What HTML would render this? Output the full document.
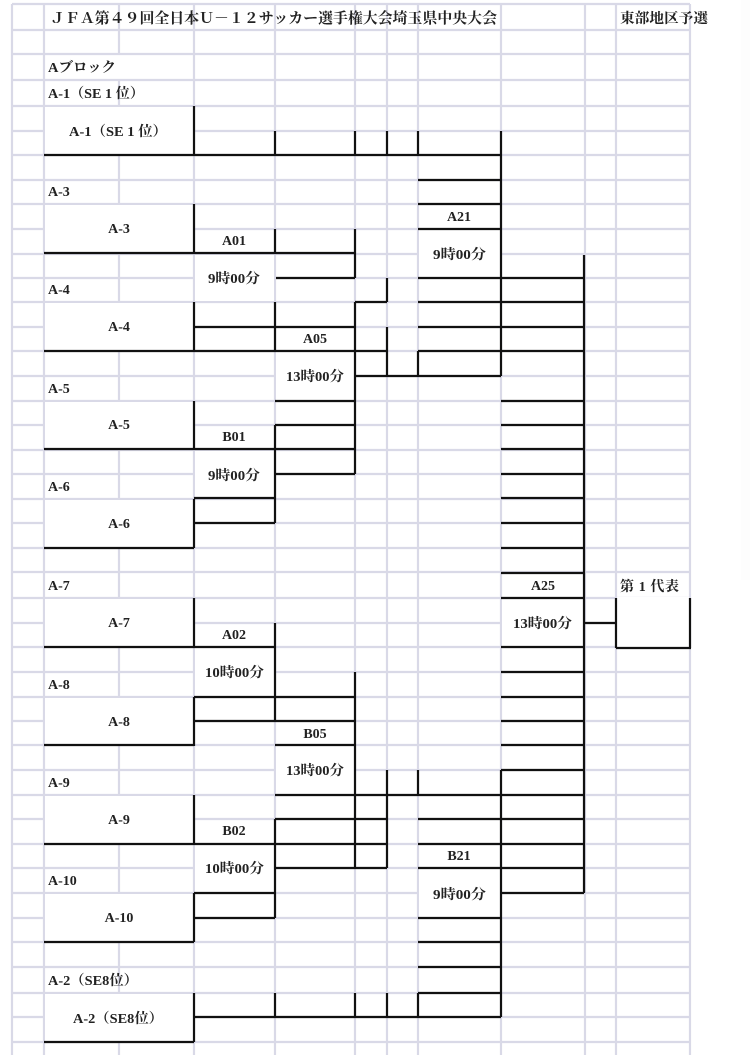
<!DOCTYPE html>
<html lang="ja"><head><meta charset="utf-8"><title>JFA U-12 Bracket</title>
<style>
html,body{margin:0;padding:0;background:#fff;width:750px;height:1055px;overflow:hidden}
svg{display:block;filter:blur(.35px)}
text{font-family:"Liberation Serif","Noto Serif CJK SC","Noto Serif CJK JP",serif;font-weight:700;font-size:14px;fill:#222}
.m{text-anchor:middle}
</style></head><body>
<svg width="750" height="1055" viewBox="0 0 750 1055" xmlns="http://www.w3.org/2000/svg">
<rect x="741" y="0" width="9" height="580" fill="#fdfdfd"/>
<!-- grey grid -->
<path fill="none" stroke="#d9d9e7" stroke-width="2.2" d="
M12 4H690M12 30H690M12 54H690M12 80H690M12 106H690M12 131H690M12 155H690M12 180H690M12 204H690M12 229H690M12 254H690M12 278H690M12 302H690M12 327H690M12 351H690M12 376H690M12 401H690M12 425H690M12 450H690M12 474H690M12 499H690M12 523H690M12 548H690M12 572H690M12 598H690M12 623H690M12 647H690M12 672H690M12 697H690M12 721H690M12 745H690M12 770H690M12 795H690M12 819H690M12 844H690M12 868H690M12 893H690M12 918H690M12 942H690M12 967H690M12 993H690M12 1017H690M12 1042H690
M12 4V1055M44 4V1055M194 4V1055M275 4V1055M355 4V1055M387 4V1055M418 4V1055M501 4V1055M585 4V1055M616 4V1055M690 4V1055
M119 4V54M119 80V106M119 155V204M119 254V302M119 351V401M119 450V499M119 548V598M119 647V697M119 745V795M119 844V893M119 942V993M119 1042V1055"/>
<!-- merged cells -->
<g fill="#fff">
<rect x="45" y="107" width="148" height="48"/><rect x="45" y="205" width="148" height="48"/><rect x="45" y="303" width="148" height="48"/><rect x="45" y="402" width="148" height="47"/><rect x="45" y="500" width="148" height="48"/><rect x="45" y="599" width="148" height="48"/><rect x="45" y="698" width="148" height="47"/><rect x="45" y="796" width="148" height="48"/><rect x="45" y="894" width="148" height="48"/><rect x="45" y="994" width="148" height="48"/>
<rect x="195" y="255" width="79" height="46"/><rect x="195" y="451" width="79" height="47"/><rect x="195" y="648" width="79" height="48"/><rect x="195" y="845" width="79" height="47"/>
<rect x="276" y="352" width="78" height="48"/><rect x="276" y="746" width="78" height="48"/>
<rect x="419" y="230" width="81" height="47"/><rect x="419" y="869" width="81" height="48"/>
<rect x="502" y="599" width="82" height="48"/>
<rect x="617" y="597" width="72" height="50"/>
</g>
<!-- black bracket lines -->
<path fill="none" stroke="#111" stroke-width="2.2" d="
M44 155H501M44 253H355M276 278H355M355 302H387M194 327H355M44 351H387M418 351H584M355 376H501
M275 401H355M275 425H355M44 449H355M275 474H355M194 498H275M194 523H275M44 548H194
M44 647H275M194 697H355M194 721H355M44 745H194M275 745H355M275 795H584M275 819H387M44 844H387M275 868H387
M194 893H275M194 918H275M44 942H194M194 1017H501M44 1042H194
M418 180H501M418 204H501M418 229H501M418 278H584M418 302H584M418 327H584M418 819H584M418 844H584M418 868H584
M501 401H584M501 425H584M501 449H584M501 474H584M501 498H584M501 523H584M501 548H584M501 573H584M501 598H584M501 647H584M501 672H584M501 697H584M501 721H584M501 745H584M501 770H584M501 893H584
M418 918H501M418 942H501M418 967H501M418 993H501
M584 623H616M616 648H691
M194 106V155M194 204V253M194 302V351M194 401V449M194 499V548M194 598V647M194 697V746M194 795V844M194 893V942M194 993V1042
M275 131V155M275 229V253M275 302V351M275 425V523M275 623V721M275 819V918M275 993V1017
M355 131V155M355 229V278M355 302V474M355 672V868M355 993V1017
M387 131V155M387 278V302M387 327V376M387 770V868M387 993V1017
M418 131V155M418 351V376M418 770V795M418 993V1017
M501 131V376M501 770V1017M584 255V893M616 598V648M690 598V648"/>
<!-- text -->
<text x="50" y="23" textLength="447" lengthAdjust="spacingAndGlyphs" style="font-size:14.8px">ＪＦＡ第４９回全日本Ｕ－１２サッカー選手権大会埼玉県中央大会</text>
<text x="620" y="23" textLength="88" lengthAdjust="spacingAndGlyphs">東部地区予選</text>
<text x="48" y="72" textLength="68" lengthAdjust="spacingAndGlyphs">Aブロック</text>
<text x="48" y="98" textLength="96" lengthAdjust="spacingAndGlyphs">A-1（SE 1 位）</text>
<text x="69" y="136" textLength="98" lengthAdjust="spacingAndGlyphs">A-1（SE 1 位）</text>
<text x="48" y="196">A-3</text><text x="119" y="233" class="m">A-3</text>
<text x="48" y="294">A-4</text><text x="119" y="331" class="m">A-4</text>
<text x="48" y="393">A-5</text><text x="119" y="429" class="m">A-5</text>
<text x="48" y="491">A-6</text><text x="119" y="528" class="m">A-6</text>
<text x="48" y="590">A-7</text><text x="119" y="627" class="m">A-7</text>
<text x="48" y="689">A-8</text><text x="119" y="726" class="m">A-8</text>
<text x="48" y="787">A-9</text><text x="119" y="824" class="m">A-9</text>
<text x="48" y="885">A-10</text><text x="119" y="922" class="m">A-10</text>
<text x="48" y="985" textLength="90" lengthAdjust="spacingAndGlyphs">A-2（SE8位）</text>
<text x="73" y="1023" textLength="90" lengthAdjust="spacingAndGlyphs">A-2（SE8位）</text>
<text x="234" y="245" class="m">A01</text><text x="208" y="283" textLength="52" lengthAdjust="spacingAndGlyphs">9時00分</text>
<text x="234" y="441" class="m">B01</text><text x="208" y="480" textLength="52" lengthAdjust="spacingAndGlyphs">9時00分</text>
<text x="234" y="639" class="m">A02</text><text x="205" y="677" textLength="59" lengthAdjust="spacingAndGlyphs">10時00分</text>
<text x="234" y="835" class="m">B02</text><text x="205" y="873" textLength="59" lengthAdjust="spacingAndGlyphs">10時00分</text>
<text x="315" y="343" class="m">A05</text><text x="286" y="381" textLength="58" lengthAdjust="spacingAndGlyphs">13時00分</text>
<text x="315" y="738" class="m">B05</text><text x="286" y="775" textLength="58" lengthAdjust="spacingAndGlyphs">13時00分</text>
<text x="459" y="221" class="m">A21</text><text x="433" y="259" textLength="53" lengthAdjust="spacingAndGlyphs">9時00分</text>
<text x="459" y="860" class="m">B21</text><text x="433" y="899" textLength="53" lengthAdjust="spacingAndGlyphs">9時00分</text>
<text x="543" y="590" class="m">A25</text><text x="513" y="628" textLength="59" lengthAdjust="spacingAndGlyphs">13時00分</text>
<text x="620" y="591" textLength="59" lengthAdjust="spacing">第 1 代表</text>
</svg>
</body></html>
